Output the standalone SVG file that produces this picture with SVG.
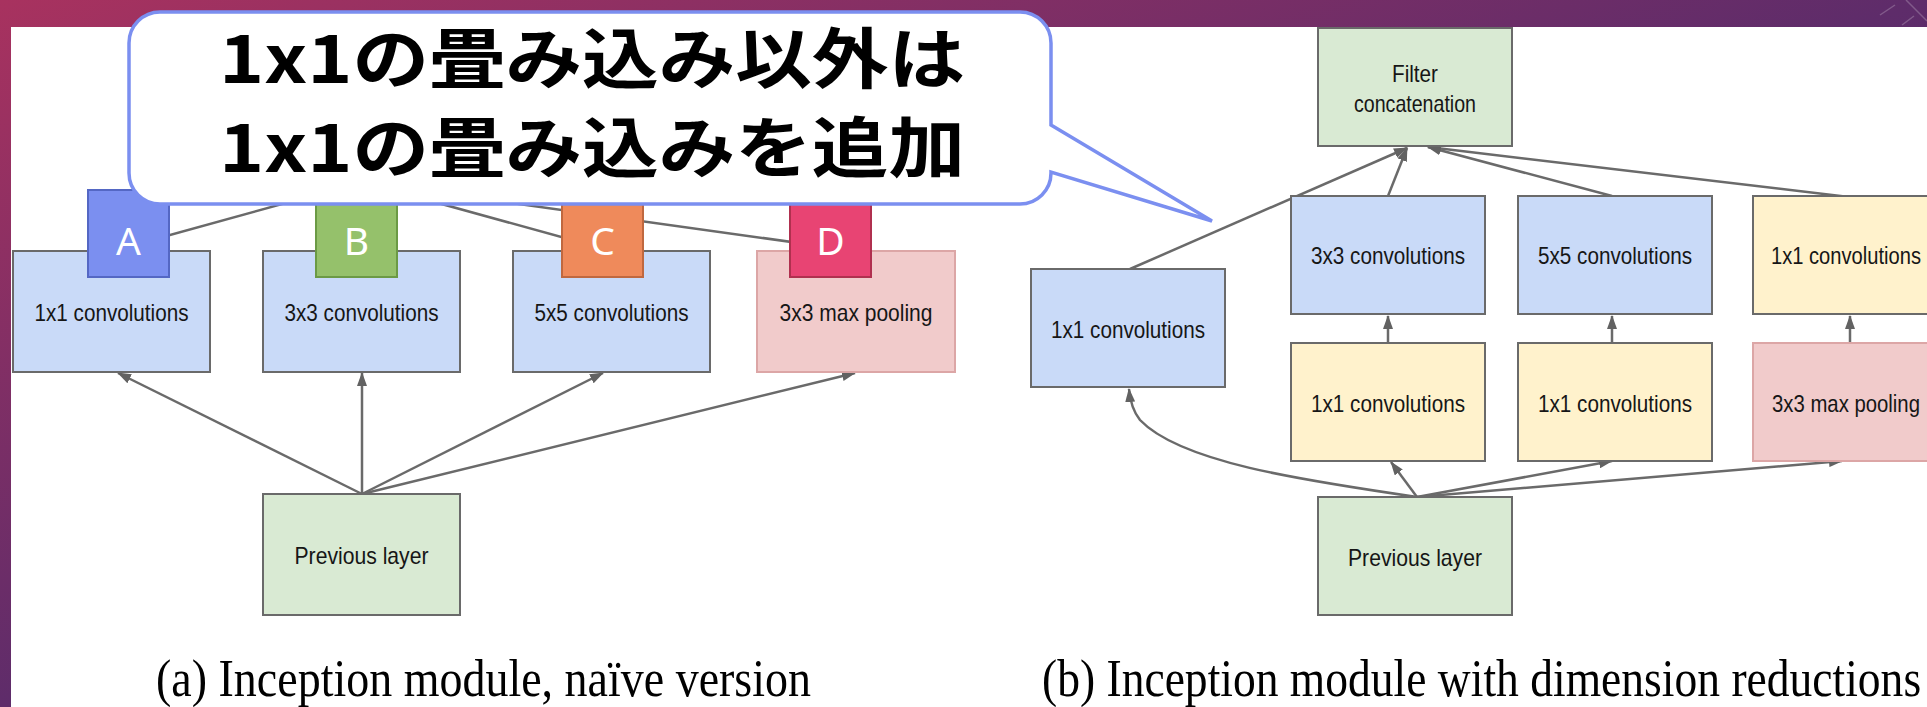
<svg xmlns="http://www.w3.org/2000/svg" width="1927" height="707" viewBox="0 0 1927 707">
  <defs>
    <linearGradient id="slideBg" x1="0" y1="0" x2="1" y2="1">
      <stop offset="0" stop-color="#a8325f"/>
      <stop offset="0.5" stop-color="#5e2c6a"/>
      <stop offset="1" stop-color="#3a2560"/>
    </linearGradient>
    <marker id="arrow" viewBox="0 0 14 10" refX="13" refY="5" markerWidth="14" markerHeight="10" markerUnits="userSpaceOnUse" orient="auto">
      <path d="M0,0 L14,5 L0,10 Z" fill="#626262"/>
    </marker>
    <style>
      .box { stroke: #6a6a6a; stroke-width: 2; }
      .blue { fill: #c9daf8; }
      .green { fill: #d9ead3; }
      .yellow { fill: #fff2cc; }
      .pink { fill: #f1cbcb; stroke: #dca6a6; stroke-width: 2; }
      .lbl { font-family: "Liberation Sans", Arial, sans-serif; font-size: 24px; fill: #161616; text-anchor: middle; }
      .cap { font-family: "Liberation Serif", "Times New Roman", serif; font-size: 52px; fill: #000; }
      .edge { fill: none; stroke: #6a6a6a; stroke-width: 2.5; }
      .edge-a { fill: none; stroke: #6a6a6a; stroke-width: 2.5; marker-end: url(#arrow); }
      .tag { font-family: "Noto Sans", "Open Sans", sans-serif; font-size: 39px; fill: #ffffff; text-anchor: middle; }
      .note { font-family: "Noto Sans CJK JP", "Noto Sans CJK SC", sans-serif; font-weight: 700; font-size: 66px; fill: #000; }
    </style>
  </defs>

  <!-- slide background and white content area -->
  <rect x="0" y="0" width="1927" height="707" fill="url(#slideBg)"/>
  <g stroke="#ffffff" stroke-opacity="0.22" stroke-width="1.5" fill="none">
    <line x1="1906" y1="0" x2="1927" y2="21"/>
    <line x1="1880" y1="15" x2="1895" y2="5"/>
    <line x1="1902" y1="25" x2="1914" y2="16"/>
  </g>
  <rect x="11" y="27" width="1916" height="680" fill="#ffffff"/>

  <!-- connectors -->
  <g id="connectors">
    <!-- (a) outputs toward the concatenation (upper ends sit under the callout) -->
    <line class="edge" x1="112" y1="251" x2="362" y2="182"/>
    <line class="edge" x1="362" y1="251" x2="362" y2="182"/>
    <line class="edge" x1="612" y1="251" x2="362" y2="182"/>
    <line class="edge" x1="856" y1="251" x2="362" y2="182"/>
    <!-- (a) previous layer fan-out -->
    <line class="edge-a" x1="362" y1="494" x2="118" y2="373"/>
    <line class="edge-a" x1="362" y1="494" x2="362" y2="373"/>
    <line class="edge-a" x1="362" y1="494" x2="603" y2="373"/>
    <line class="edge-a" x1="362" y1="494" x2="855" y2="373"/>
    <!-- (b) branches into filter concatenation -->
    <line class="edge-a" x1="1130" y1="269" x2="1407" y2="148"/>
    <line class="edge-a" x1="1388" y1="196" x2="1407" y2="148"/>
    <line class="edge-a" x1="1612" y1="196" x2="1428" y2="147"/>
    <line class="edge-a" x1="1849" y1="197" x2="1428" y2="147"/>
    <!-- (b) reductions into the wide filters -->
    <line class="edge-a" x1="1388" y1="343" x2="1388" y2="316"/>
    <line class="edge-a" x1="1612" y1="343" x2="1612" y2="316"/>
    <line class="edge-a" x1="1850" y1="343" x2="1850" y2="316"/>
    <!-- (b) previous layer fan-out -->
    <path class="edge-a" d="M1417,497 C1300,480 1180,462 1140,420 C1132,410 1130,400 1129,389"/>
    <line class="edge-a" x1="1417" y1="497" x2="1391" y2="462"/>
    <line class="edge-a" x1="1417" y1="497" x2="1612" y2="461"/>
    <line class="edge-a" x1="1417" y1="497" x2="1842" y2="461"/>
  </g>

  <!-- (a) Inception module, naive version -->
  <g id="a-conv1">
    <rect class="box blue" x="13" y="251" width="197" height="121"/>
    <text class="lbl" x="111.5" y="321" textLength="154" lengthAdjust="spacingAndGlyphs">1x1 convolutions</text>
  </g>
  <g id="a-conv3">
    <rect class="box blue" x="263" y="251" width="197" height="121"/>
    <text class="lbl" x="361.5" y="321" textLength="154" lengthAdjust="spacingAndGlyphs">3x3 convolutions</text>
  </g>
  <g id="a-conv5">
    <rect class="box blue" x="513" y="251" width="197" height="121"/>
    <text class="lbl" x="611.5" y="321" textLength="154" lengthAdjust="spacingAndGlyphs">5x5 convolutions</text>
  </g>
  <g id="a-pool">
    <rect class="pink" x="757" y="251" width="198" height="121"/>
    <text class="lbl" x="856" y="321" textLength="153" lengthAdjust="spacingAndGlyphs">3x3 max pooling</text>
  </g>
  <g id="a-prev">
    <rect class="box green" x="263" y="494" width="197" height="121"/>
    <text class="lbl" x="361.5" y="564" textLength="134" lengthAdjust="spacingAndGlyphs">Previous layer</text>
  </g>

  <!-- branch tags -->
  <g id="tag-A">
    <rect x="88" y="190" width="81" height="87" fill="#7b8ff0" stroke="#5467c4" stroke-width="2"/>
    <text class="tag" x="128.5" y="255">A</text>
  </g>
  <g id="tag-B">
    <rect x="316" y="190" width="81" height="87" fill="#95c16b" stroke="#6b9a45" stroke-width="2"/>
    <text class="tag" x="356.5" y="255">B</text>
  </g>
  <g id="tag-C">
    <rect x="562" y="190" width="81" height="87" fill="#ef8a5b" stroke="#c0683f" stroke-width="2"/>
    <text class="tag" x="602.5" y="255">C</text>
  </g>
  <g id="tag-D">
    <rect x="790" y="190" width="81" height="87" fill="#e84473" stroke="#b0304f" stroke-width="2"/>
    <text class="tag" x="830.5" y="255">D</text>
  </g>

  <!-- (b) Inception module with dimension reductions -->
  <g id="b-concat">
    <rect class="box green" x="1318" y="28" width="194" height="118"/>
    <text class="lbl" x="1415" y="82" textLength="46" lengthAdjust="spacingAndGlyphs">Filter</text>
    <text class="lbl" x="1415" y="112" textLength="122" lengthAdjust="spacingAndGlyphs">concatenation</text>
  </g>
  <g id="b-conv1">
    <rect class="box blue" x="1031" y="269" width="194" height="118"/>
    <text class="lbl" x="1128" y="338" textLength="154" lengthAdjust="spacingAndGlyphs">1x1 convolutions</text>
  </g>
  <g id="b-conv3">
    <rect class="box blue" x="1291" y="196" width="194" height="118"/>
    <text class="lbl" x="1388" y="264" textLength="154" lengthAdjust="spacingAndGlyphs">3x3 convolutions</text>
  </g>
  <g id="b-conv5">
    <rect class="box blue" x="1518" y="196" width="194" height="118"/>
    <text class="lbl" x="1615" y="264" textLength="154" lengthAdjust="spacingAndGlyphs">5x5 convolutions</text>
  </g>
  <g id="b-poolproj">
    <rect class="box yellow" x="1753" y="196" width="194" height="118"/>
    <text class="lbl" transform="translate(1846,264) scale(0.84,1)">1x1 convolutions</text>
  </g>
  <g id="b-reduce3">
    <rect class="box yellow" x="1291" y="343" width="194" height="118"/>
    <text class="lbl" x="1388" y="412" textLength="154" lengthAdjust="spacingAndGlyphs">1x1 convolutions</text>
  </g>
  <g id="b-reduce5">
    <rect class="box yellow" x="1518" y="343" width="194" height="118"/>
    <text class="lbl" x="1615" y="412" textLength="154" lengthAdjust="spacingAndGlyphs">1x1 convolutions</text>
  </g>
  <g id="b-pool">
    <rect class="pink" x="1753" y="343" width="194" height="118"/>
    <text class="lbl" transform="translate(1846,412) scale(0.847,1)">3x3 max pooling</text>
  </g>
  <g id="b-prev">
    <rect class="box green" x="1318" y="497" width="194" height="118"/>
    <text class="lbl" x="1415" y="566" textLength="134" lengthAdjust="spacingAndGlyphs">Previous layer</text>
  </g>

  <!-- captions -->
  <text class="cap" x="156" y="696" textLength="655" lengthAdjust="spacingAndGlyphs">(a) Inception module, naïve version</text>
  <text class="cap" transform="translate(1042,696) scale(0.876,1)">(b) Inception module with dimension reductions</text>

  <!-- callout -->
  <g id="callout">
    <path d="M160,12 H1020 A31,31 0 0 1 1051,43 V125 L1212,221 L1051,172 V173 A31,31 0 0 1 1020,204 H160 A31,31 0 0 1 129,173 V43 A31,31 0 0 1 160,12 Z" fill="#ffffff" stroke="#7b8ff0" stroke-width="3.5" stroke-linejoin="miter"/>
    <text class="note" x="219" y="83" textLength="746" lengthAdjust="spacingAndGlyphs">1x1の畳み込み以外は</text>
    <text class="note" x="219" y="172" textLength="746" lengthAdjust="spacingAndGlyphs">1x1の畳み込みを追加</text>
  </g>
</svg>
